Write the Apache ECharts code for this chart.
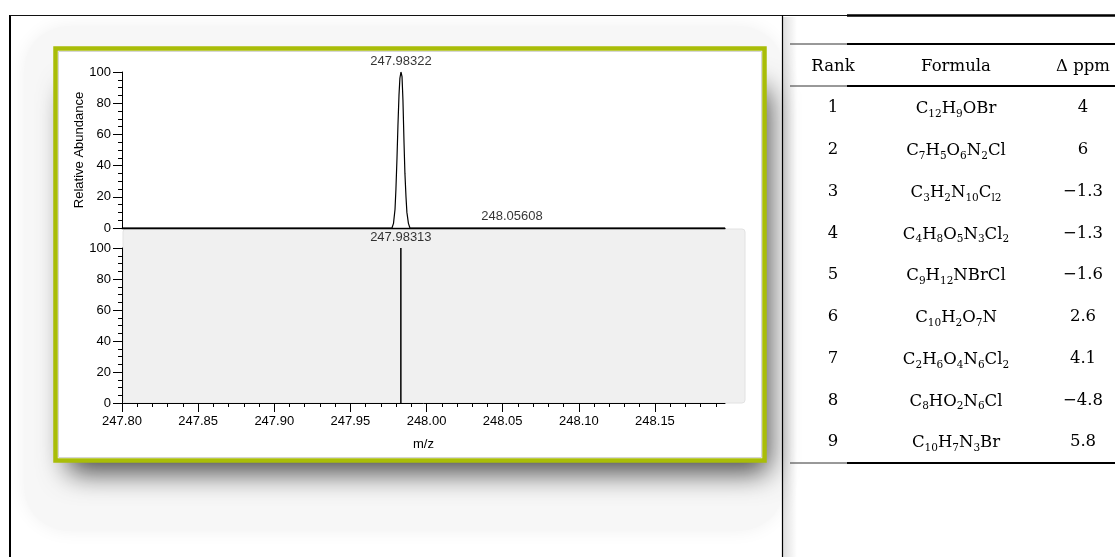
<!DOCTYPE html>
<html><head><meta charset="utf-8">
<script src="https://cdn.jsdelivr.net/npm/echarts@6/dist/echarts.min.js"></script>
<style>html,body{margin:0;padding:0;background:#fff}#c{width:1115px;height:557px}</style>
</head><body><div id="c"></div>
<script>
// ---------- data ----------
const xMin = 247.80, xMax = 248.196;
const xMajorTicks = [247.80, 247.85, 247.90, 247.95, 248.00, 248.05, 248.10, 248.15];
const yTicks = [0, 20, 40, 60, 80, 100];
const profileMz = [247.80, 247.9773, 247.9783, 247.9793, 247.9799, 247.9806, 247.9812, 247.9819, 247.9825, 247.9832,
                   247.9839, 247.9845, 247.9852, 247.9858, 247.9865, 247.9871, 247.9881, 247.9891,
                   248.0550, 248.0561, 248.0572, 248.196];
const profileAb = [0, 0, 3, 12, 25, 45, 65, 85, 96, 100,
                   97, 82, 55, 35, 20, 10, 3, 0,
                   0, 0.6, 0, 0];
const measuredLabelMz = [247.98322, 248.05608];
const measuredLabelAb = [100, 0.6];
// theoretical stick spectrum
const theoMz = [247.98313];
const theoAb = [100];
// table
const tableHeader = ['Rank', 'Formula', 'Δ ppm'];
const ranks = ['1', '2', '3', '4', '5', '6', '7', '8', '9'];
const formulas = ['C_{12}H_{9}OBr', 'C_{7}H_{5}O_{6}N_{2}Cl', 'C_{3}H_{2}N_{10}C_{l2}', 'C_{4}H_{8}O_{5}N_{3}Cl_{2}',
                  'C_{9}H_{12}NBrCl', 'C_{10}H_{2}O_{7}N', 'C_{2}H_{6}O_{4}N_{6}Cl_{2}', 'C_{8}HO_{2}N_{6}Cl', 'C_{10}H_{7}N_{3}Br'];
const ppm = ['4', '6', '−1.3', '−1.3', '−1.6', '2.6', '4.1', '−4.8', '5.8'];

// ---------- helpers ----------
const SANS = 'Liberation Sans, Arial, sans-serif';
const SERIF = 'DejaVu Serif, serif';
const minorTicks = [];
for (let i = 0; i < xMajorTicks.length; i++) {
  for (let k = 1; k <= 4; k++) {
    const v = +(xMajorTicks[i] + k * 0.01).toFixed(2);
    if (v < xMax) minorTicks.push(v);
  }
}
function richFormula(f) {
  return f.replace(/([^_{}]+)|_\{([^}]*)\}/g, (m, a, b) => a ? '{n|' + a + '}' : '{s|' + b + '}');
}
const profile = profileMz.map((m, i) => [m, profileAb[i]]);
const sticks = [];
theoMz.forEach((m, i) => { sticks.push([m, 0], [m, theoAb[i]], null); });

const txt = { color: '#000', fontFamily: SANS, fontSize: 13 };
function yAxis(gi, name) {
  return {
    type: 'value', gridIndex: gi, min: 0, max: 100, interval: 20,
    name: name || '', nameLocation: 'middle', nameGap: 36, nameRotate: 90, nameMoveOverlap: false,
    nameTextStyle: txt,
    axisLine: { show: true, lineStyle: { color: '#000', width: 1 } },
    axisTick: { show: true, length: 9, lineStyle: { color: '#000' } },
    minorTick: { show: true, splitNumber: 4, length: 4, lineStyle: { color: '#000' } },
    axisLabel: Object.assign({ margin: 11 }, txt),
    splitLine: { show: false }, minorSplitLine: { show: false }
  };
}

// ---------- decorations & table ----------
const G = [];
G.push({ type: 'rect', z: -40, shape: { x: 24, y: 26, width: 760, height: 505, r: 45 },
  style: { fill: '#f7f7f7', shadowBlur: 18, shadowColor: 'rgba(0,0,0,0.06)' } });
G.push({ type: 'rect', z: -35, shape: { x: 62, y: 70, width: 702, height: 385, r: 10 },
  style: { fill: '#777', shadowBlur: 28, shadowOffsetX: 5, shadowOffsetY: 18, shadowColor: 'rgba(0,0,0,0.7)' } });
G.push({ type: 'rect', z: -30, shape: { x: 55.5, y: 48.5, width: 709, height: 412 },
  style: { fill: '#fff', stroke: '#a9bd08', lineWidth: 4.5 } });
G.push({ type: 'rect', z: -29, shape: { x: 58.5, y: 51.5, width: 703, height: 406 },
  style: { fill: 'none', stroke: '#d6d6d6', lineWidth: 1 } });
G.push({ type: 'rect', z: -20, shape: { x: 123, y: 229, width: 622, height: 174, r: 3 },
  style: { fill: '#f0f0f0', stroke: '#e2e2e2', lineWidth: 1 } });
G.push({ type: 'rect', z: -25, shape: { x: 783, y: 17, width: 14, height: 540 },
  style: { fill: new echarts.graphic.LinearGradient(0, 0, 1, 0, [{ offset: 0, color: 'rgba(0,0,0,0.13)' }, { offset: 1, color: 'rgba(0,0,0,0)' }]) } });
G.push({ type: 'line', z: 5, shape: { x1: 10, y1: 15, x2: 10, y2: 557 }, style: { stroke: '#000', lineWidth: 2 } });
G.push({ type: 'line', z: 5, shape: { x1: 10, y1: 15.5, x2: 848, y2: 15.5 }, style: { stroke: '#111', lineWidth: 1.2 } });
G.push({ type: 'line', z: 5, shape: { x1: 847, y1: 15.5, x2: 1115, y2: 15.5 }, style: { stroke: '#000', lineWidth: 2.5 } });
G.push({ type: 'line', z: 5, shape: { x1: 782.5, y1: 15, x2: 782.5, y2: 557 }, style: { stroke: '#000', lineWidth: 1.2 } });
[44, 86, 463].forEach(y => {
  G.push({ type: 'line', z: 5, shape: { x1: 790, y1: y, x2: 847, y2: y }, style: { stroke: '#333', lineWidth: 1 } });
  G.push({ type: 'line', z: 5, shape: { x1: 847, y1: y, x2: 1115, y2: y }, style: { stroke: '#000', lineWidth: 2.2 } });
});
const colX = [833, 956, 1083];
tableHeader.forEach((h, j) => {
  G.push({ type: 'text', z: 5, style: { text: h, x: colX[j], y: 67, align: 'center', verticalAlign: 'middle',
    fontFamily: SERIF, fontSize: 16.5, fill: '#000' } });
});
const rich = {
  n: { fontFamily: SERIF, fontSize: 16.5, lineHeight: 22, fill: '#000', color: '#000' },
  s: { fontFamily: SERIF, fontSize: 10.5, lineHeight: 16, verticalAlign: 'bottom', fill: '#000', color: '#000' }
};
ranks.forEach((r, i) => {
  const y = 108 + i * 41.75;
  G.push({ type: 'text', z: 5, style: { text: r, x: colX[0], y: y, align: 'center', verticalAlign: 'middle', fontFamily: SERIF, fontSize: 16.5, fill: '#000' } });
  G.push({ type: 'text', z: 5, style: { text: richFormula(formulas[i]), rich: rich, x: colX[1], y: y + 1, align: 'center', verticalAlign: 'middle', fill: '#000' } });
  G.push({ type: 'text', z: 5, style: { text: ppm[i], x: colX[2], y: y, align: 'center', verticalAlign: 'middle', fontFamily: SERIF, fontSize: 16.5, fill: '#000' } });
});

// ---------- chart ----------
const chart = echarts.init(document.getElementById('c'), null, { renderer: 'canvas' });
chart.setOption({
  backgroundColor: '#fff',
  animation: false,
  graphic: { elements: G },
  grid: [
    { left: 122, top: 72, width: 603, height: 156, outerBoundsMode: 'none', containLabel: false },
    { left: 122, top: 248, width: 603, height: 155, outerBoundsMode: 'none', containLabel: false }
  ],
  xAxis: [
    { type: 'value', gridIndex: 0, min: xMin, max: xMax,
      axisLine: { show: true, onZero: false, lineStyle: { color: '#000', width: 1.3 } },
      axisTick: { show: false }, axisLabel: { show: false }, splitLine: { show: false } },
    { type: 'value', gridIndex: 1, min: xMin, max: xMax, position: 'bottom',
      name: 'm/z', nameLocation: 'middle', nameGap: 35, nameTextStyle: txt, nameMoveOverlap: false,
      axisLine: { show: true, onZero: false, lineStyle: { color: '#000', width: 1 } },
      axisTick: { show: true, length: 9, customValues: xMajorTicks, lineStyle: { color: '#000' } },
      axisLabel: Object.assign({ margin: 12, customValues: xMajorTicks, formatter: v => v.toFixed(2) }, txt),
      splitLine: { show: false } },
    { type: 'value', gridIndex: 1, min: xMin, max: xMax, position: 'bottom',
      axisLine: { show: false },
      axisTick: { show: true, length: 4, customValues: minorTicks, lineStyle: { color: '#000' } },
      axisLabel: { show: false }, splitLine: { show: false } }
  ],
  yAxis: [yAxis(0, 'Relative Abundance'), yAxis(1)],
  series: [
    { type: 'line', xAxisIndex: 0, yAxisIndex: 0, data: profile, showSymbol: false, symbol: 'none',
      lineStyle: { color: '#000', width: 1.2 }, z: 3 },
    { type: 'scatter', xAxisIndex: 0, yAxisIndex: 0, symbolSize: 0,
      data: measuredLabelMz.map((m, i) => [m, measuredLabelAb[i]]),
      label: Object.assign({ show: true, position: 'top', distance: 4, formatter: p => p.value[0].toFixed(5) }, txt) },
    { type: 'line', xAxisIndex: 1, yAxisIndex: 1, data: sticks, showSymbol: false, symbol: 'none', connectNulls: false,
      lineStyle: { color: '#000', width: 1.5 }, z: 3 },
    { type: 'scatter', xAxisIndex: 1, yAxisIndex: 1, symbolSize: 0,
      data: theoMz.map((m, i) => [m, theoAb[i]]),
      label: Object.assign({ show: true, position: 'top', distance: 4, formatter: p => p.value[0].toFixed(5) }, txt) }
  ]
});
</script></body></html>
